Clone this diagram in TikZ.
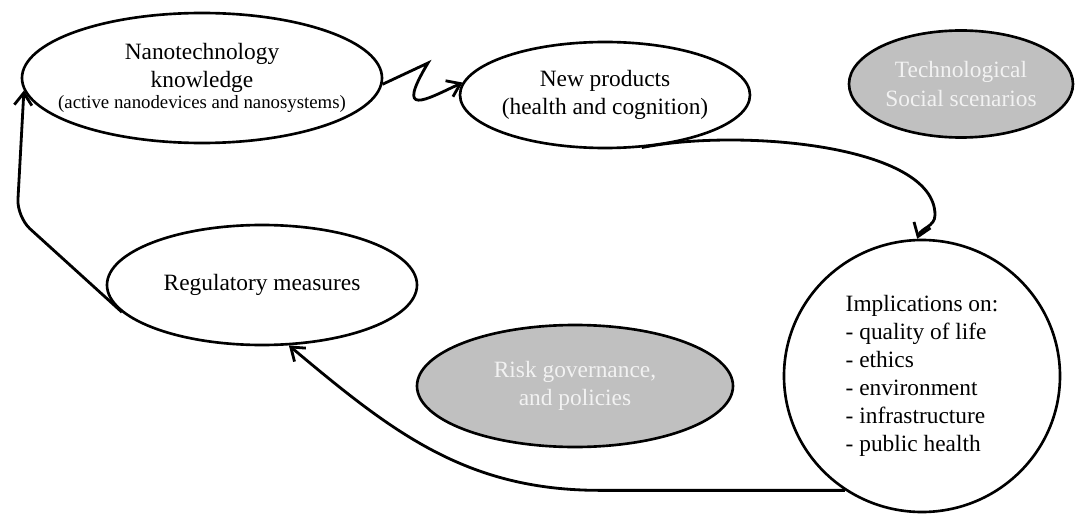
\documentclass[tikz,border=0pt]{standalone}
\usepackage{fontspec}
\setmainfont{Liberation Serif}
\usetikzlibrary{shapes.geometric,arrows.meta}
\definecolor{bubblegray}{HTML}{C0C0C0}
\definecolor{paletext}{HTML}{F2F2F2}

\begin{document}
\begin{tikzpicture}[
        bubble/.style={ellipse, draw=black, line width=1.5pt, inner xsep=-6mm, inner ysep=0pt, align=center, font=\fontsize{13.3}{16}\selectfont},
        shaded/.style={bubble, fill=bubblegray, text=paletext},
        flow/.style={line width=1.6pt, -{Straight Barb[length=7pt,width=10pt]}}
    ]
        \useasboundingbox (0,0) rectangle (21.5,-10.28);

        % The cycle
        \node[bubble, minimum width=7.2cm, minimum height=2.6cm] (know) at (4.04,-1.56) {Nanotechnology\\knowledge\\[-4pt]{\fontsize{10.7}{13}\selectfont (active nanodevices and nanosystems)}};
        \node[bubble, minimum width=5.8cm, minimum height=2.12cm] (prod) at (12.1,-1.9) {New products\\(health and cognition)};
        \node[bubble, minimum width=5.52cm, minimum height=5.44cm, align=left] (impl) at (18.44,-7.52) {Implications on:\\- quality of life\\- ethics\\- environment\\- infrastructure\\- public health};
        \node[bubble, minimum width=6.2cm, minimum height=2.4cm] (reg) at (5.24,-5.7) {Regulatory measures};

        % Context
        \node[shaded, minimum width=4.48cm, minimum height=2.14cm] (tech) at (19.22,-1.68) {Technological\\Social scenarios};
        \node[shaded, minimum width=6.32cm, minimum height=2.44cm] (risk) at (11.5,-7.72) {Risk governance,\\and policies};

        % Arrows between the stages
        \draw[flow] (know.-2) -- (8.56,-1.26) .. controls (7.9,-2.36) and (8.5,-2.0) .. (prod.175);
        \draw[flow] (prod.-55) .. controls (14.8,-2.56) and (18.7,-2.9) .. (18.7,-4.3) to[out=-90,in=70] (impl.92);
        \draw[flow] (impl.236) -- ++(-4.9,0) to[out=180,in=-40] (reg.294);
        \draw[flow, rounded corners=10pt] (reg.191) -- (0.34,-4.34) -- (know.184);
    \end{tikzpicture}
\end{document}
